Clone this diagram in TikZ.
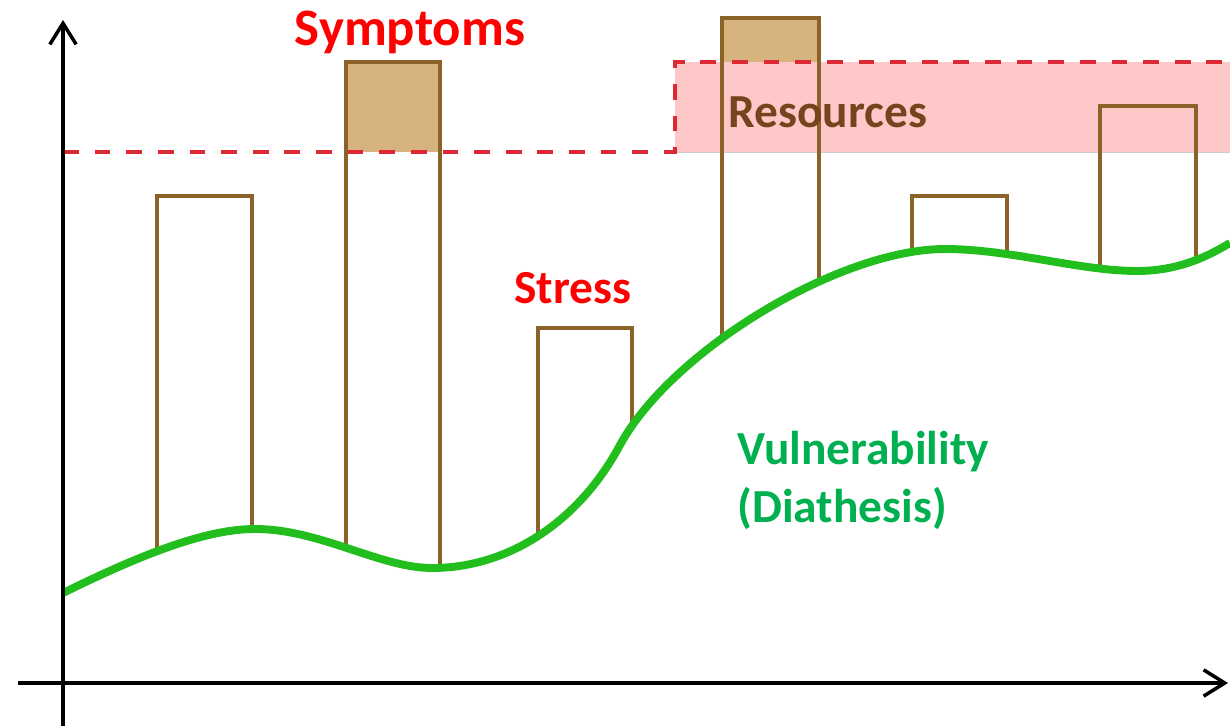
\documentclass[tikz,border=0pt]{standalone}
\usepackage{fontspec}
\setmainfont{Carlito}
\usetikzlibrary{arrows.meta}

\definecolor{barbrown}{RGB}{139,98,40}
\definecolor{symfill}{RGB}{214,178,126}
\definecolor{respink}{RGB}{255,200,200}
\definecolor{dashred}{RGB}{220,40,50}
\definecolor{vulngreen}{RGB}{34,190,30}
\definecolor{textgreen}{RGB}{0,176,80}
\definecolor{resbrown}{RGB}{117,68,30}

\newcommand\vulncurve{(63,593) .. controls (150,550) and (210,529) .. (255,529)
	.. controls (320,529) and (380,568) .. (432,568)
	.. controls (510,568) and (580,520) .. (620,445)
	.. controls (672,350) and (840,249) .. (945,249)
	.. controls (1010,249) and (1080,271) .. (1137,271)
	.. controls (1180,271) and (1210,255) .. (1230,243)}

\begin{document}
\begin{tikzpicture}[x=0.02cm,y=-0.02cm,
	barline/.style={draw=barbrown,line width=2pt},
	limitline/.style={dashred,line width=2.3pt,dash pattern=on 9pt off 9pt},
	vulnline/.style={vulngreen,line width=4.5pt},
	axisline/.style={black,line width=2pt,-{Straight Barb[length=12pt,width=15pt]}},
	bigtext/.style={font=\fontsize{27}{32}\selectfont\bfseries,inner sep=0pt}]
	\useasboundingbox (0,0) rectangle (1230,726);
	\fill[respink] (675,62) rectangle (1230,152);
	\draw[gray!40,thin] (675,152) -- (1230,152);
	\begin{scope}
		\clip (63,0) -- \vulncurve -- (1230,0) -- cycle;
		\fill[symfill] (346,62) rectangle (440,152);
		\fill[symfill] (722,18) rectangle (819,62);
		\foreach \xl/\xr/\yt in {157/252/196, 346/440/62, 538/632/328, 722/819/18, 912/1007/196, 1100/1196/106}
			\draw[barline] (\xl,720) -- (\xl,\yt) -- (\xr,\yt) -- (\xr,720);
	\end{scope}
	\draw[limitline] (63,152) -- (675,152) -- (675,62) -- (1230,62);
	\draw[vulnline] \vulncurve;
	\draw[axisline] (63,726) -- (63,20);
	\draw[axisline] (18,683) -- (1228,683);
	\node[bigtext,font=\fontsize{30}{36}\selectfont\bfseries,red,anchor=base] (symptoms) at (410,46) {Symptoms};
	\node[bigtext,red,anchor=base] (stress) at (573,303) {Stress};
	\node[bigtext,resbrown,anchor=base west] (resources) at (728,128) {Resources};
	\node[bigtext,textgreen,anchor=base west] (vulnerability) at (737,464) {Vulnerability};
	\node[bigtext,textgreen,anchor=base west] (diathesis) at (737,522) {(Diathesis)};
\end{tikzpicture}
\end{document}
